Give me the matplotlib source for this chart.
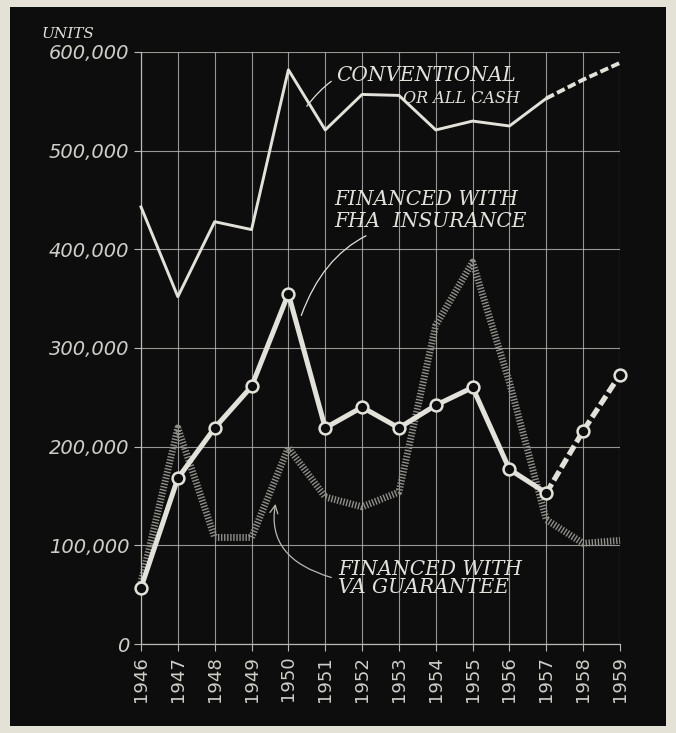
import matplotlib
matplotlib.use("Agg")
import matplotlib.pyplot as plt
from matplotlib.patches import Rectangle
from matplotlib.ticker import FuncFormatter

years = list(range(1946, 1960))
conventional = [443000, 352000, 428000, 420000, 582000, 521000, 557000,
                556000, 521000, 530000, 525000, 553000, 572000, 589000]
fha = [57000, 168000, 219000, 261000, 355000, 219000, 240000,
       219000, 242000, 260000, 177000, 153000, 216000, 273000]
va = [62000, 219000, 108000, 108000, 199000, 149000, 139000,
      154000, 323000, 387000, 265000, 126000, 102000, 105000]
y_ticks = [0, 100000, 200000, 300000, 400000, 500000, 600000]
split = 11  # from 1957 on the lines are dashed (estimates)

ink = "#e2e1da"
grid_c = "#b9b9b4"
fig = plt.figure(figsize=(6.76, 7.33), dpi=100, facecolor="#e4e2d6")
fig.patches.append(Rectangle((10/676, 7/733), 656/676, 719/733,
                             transform=fig.transFigure, facecolor="#0d0d0d",
                             edgecolor="none", zorder=-10))
ax = fig.add_axes([141/676, 1 - 644/733, 479/676, 592/733])
ax.set_zorder(1)
ax.set_facecolor("none")

ax.set_xlim(1946, 1959)
ax.set_ylim(0, 600000)
ax.set_xticks(years)
ax.set_yticks(y_ticks)
ax.yaxis.set_major_formatter(FuncFormatter(lambda v, p: "0" if v == 0 else f"{int(v):,}"))
ax.grid(True, color=grid_c, lw=0.8, alpha=0.8)
ax.set_axisbelow(True)
for s in ["top", "right"]:
    ax.spines[s].set_visible(False)
for s in ["left", "bottom"]:
    ax.spines[s].set_color(grid_c)
    ax.spines[s].set_linewidth(0.9)
ax.tick_params(axis="both", colors=grid_c, length=5, width=0.8,
               labelcolor="#cfcec8", labelsize=13)
ax.tick_params(axis="y", labelsize=14)
ax.tick_params(axis="x", rotation=90)
for t in ax.get_yticklabels():
    t.set_fontstyle("italic")

# VA guarantee: hatched grey line
ax.plot(years, va, color="#8f8f8a", lw=5, dashes=(0.2, 0.24),
        solid_joinstyle="miter", clip_on=False, zorder=2)

# Conventional
ax.plot(years[:split + 1], conventional[:split + 1], color=ink, lw=2.1,
        clip_on=False, zorder=3)
ax.plot(years[split:], conventional[split:], color=ink, lw=2.8, dashes=(2.2, 0.9),
        clip_on=False, zorder=3)

# FHA insurance
ax.plot(years[:split + 1], fha[:split + 1], color=ink, lw=3.6,
        clip_on=False, zorder=4)
ax.plot(years[split:], fha[split:], color=ink, lw=3.8, dashes=(2.0, 0.8),
        clip_on=False, zorder=4)
ax.plot(years, fha, ls="none", marker="o", ms=8.5, mfc="#0d0d0d",
        mec=ink, mew=1.8, clip_on=False, zorder=5)

lab = dict(color=ink, fontsize=14.5, family="DejaVu Serif", style="italic")
fig.text(42/676, 1 - 34/733, "UNITS", color=ink, fontsize=11,
         family="DejaVu Serif", style="italic", va="center")

ax.annotate("CONVENTIONAL", xy=(1950.5, 545000), xytext=(1951.3, 576000),
            va="center", ha="left", **lab,
            arrowprops=dict(arrowstyle="-", color=ink, lw=0.9,
                            connectionstyle="arc3,rad=0.4", shrinkA=2, shrinkB=0))
ax.text(1953.1, 553000, "OR ALL CASH", va="center", ha="left",
        color=ink, fontsize=11.5, family="DejaVu Serif", style="italic")

ax.text(1951.25, 450000, "FINANCED WITH", va="center", ha="left", **lab)
ax.annotate("FHA  INSURANCE", xy=(1950.35, 333000), xytext=(1951.25, 428000),
            va="center", ha="left", **lab,
            arrowprops=dict(arrowstyle="-", color=ink, lw=0.9,
                            connectionstyle="angle3,angleA=180,angleB=70",
                            shrinkA=3, shrinkB=0))

ax.text(1951.35, 76000, "FINANCED WITH", va="center", ha="left", **lab)
ax.annotate("VA GUARANTEE", xy=(1949.65, 142000), xytext=(1951.35, 57000),
            va="center", ha="left", **lab,
            arrowprops=dict(arrowstyle="->", color=grid_c, lw=0.9,
                            connectionstyle="angle3,angleA=180,angleB=80",
                            shrinkA=3, shrinkB=0))

fig.savefig("out.png", dpi=100, facecolor=fig.get_facecolor())
